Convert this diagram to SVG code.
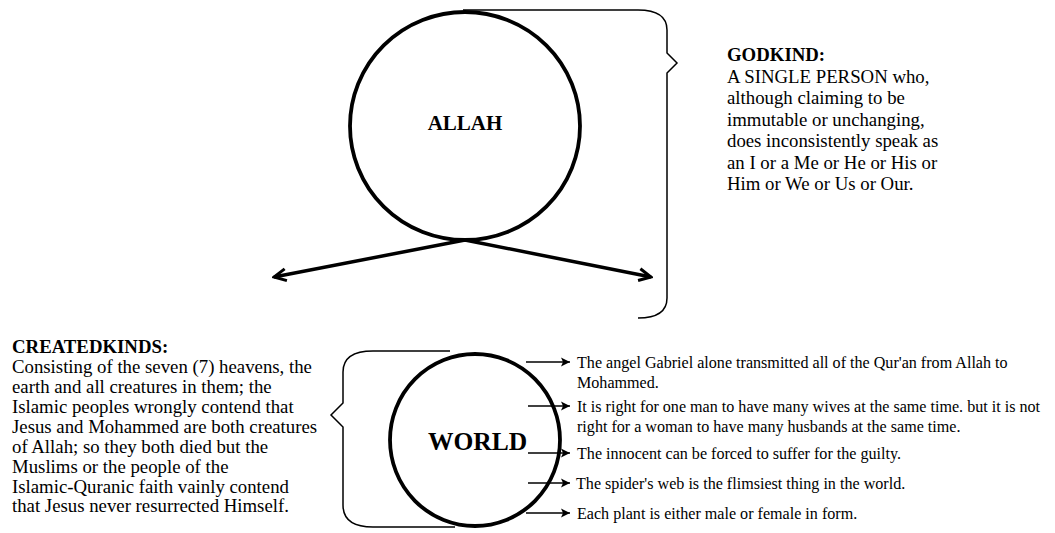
<svg xmlns="http://www.w3.org/2000/svg" width="1055" height="533" viewBox="0 0 1055 533">
<style>
.t{font-family:"Liberation Serif","Times New Roman",serif;fill:#000}
.b{font-weight:bold}
.body{font-size:18.8px}
.small{font-size:16.1px}
.node{fill:none;stroke:#000;stroke-width:3.8}
.brace{fill:none;stroke:#000;stroke-width:1.5}
.big{fill:none;stroke:#000;stroke-width:3.5}
.thin{fill:none;stroke:#000;stroke-width:1.5}
</style>
<defs>
<marker id="bigArrow" markerUnits="userSpaceOnUse" viewBox="-14 -8 16 16" refX="0" refY="0" markerWidth="16" markerHeight="16" orient="auto">
<path d="M-12,-6 L0,0 L-12,6" fill="none" stroke="#000" stroke-width="3"/>
</marker>
<marker id="smallArrow" markerUnits="userSpaceOnUse" viewBox="-11 -6 12 12" refX="0" refY="0" markerWidth="12" markerHeight="12" orient="auto">
<path d="M0,0 L-9,-4.5 L-7,0 L-9,4.5 Z" fill="#000"/>
</marker>
</defs>
<g id="allah">
<ellipse class="node" cx="465" cy="126" rx="115" ry="114"/>
<text class="t b" x="465" y="130" font-size="21" text-anchor="middle">ALLAH</text>
</g>
<g id="godkind">
<path class="brace" d="M463,10 L638,10 Q667,10 667,30 L667,53 L677,63 L667,73 L667,298 Q667,318 638,318"/>
<text class="t b body" x="727" y="61">GODKIND:</text>
<text class="t body" x="727" y="82.5">A SINGLE PERSON who,</text>
<text class="t body" x="727" y="104">although claiming to be</text>
<text class="t body" x="727" y="125.5">immutable or unchanging,</text>
<text class="t body" x="727" y="147">does inconsistently speak as</text>
<text class="t body" x="727" y="168.5">an I or a Me or He or His or</text>
<text class="t body" x="727" y="190">Him or We or Us or Our.</text>
</g>
<g id="world">
<ellipse class="node" cx="475" cy="440" rx="85" ry="86"/>
<text class="t b" x="428" y="450" font-size="25.5">WORLD</text>
</g>
<g id="createdkinds">
<path class="brace" d="M450,351 L373,351 Q343,351 343,372 L343,403 L331,415 L343,427 L343,505 Q343,527 373,527 L455,527"/>
<text class="t b body" x="12" y="353">CREATEDKINDS:</text>
<text class="t body" x="12" y="373">Consisting of the seven (7) heavens, the</text>
<text class="t body" x="12" y="393">earth and all creatures in them; the</text>
<text class="t body" x="12" y="413">Islamic peoples wrongly contend that</text>
<text class="t body" x="12" y="433">Jesus and Mohammed are both creatures</text>
<text class="t body" x="12" y="453">of Allah; so they both died but the</text>
<text class="t body" x="12" y="472.5">Muslims or the people of the</text>
<text class="t body" x="12" y="492.5">Islamic-Quranic faith vainly contend</text>
<text class="t body" x="12" y="511.5">that Jesus never resurrected Himself.</text>
</g>
<g id="beliefs">
<text class="t small" x="577" y="368">The angel Gabriel  alone transmitted all of the Qur'an from Allah to</text>
<text class="t small" x="577" y="388">Mohammed.</text>
<text class="t small" x="577" y="412">It is right for one man to have many wives at the same time. but it is not</text>
<text class="t small" x="577" y="432">right for a woman to have many husbands at the same time.</text>
<text class="t small" x="577" y="459">The innocent can be forced to suffer for the guilty.</text>
<text class="t small" x="576" y="489">The spider's web is the flimsiest thing in the world.</text>
<text class="t small" x="577" y="519">Each plant is either male or female in form.</text>
</g>
<g id="connectors">
<line class="big" x1="465" y1="240" x2="274" y2="277" marker-end="url(#bigArrow)"/>
<line class="big" x1="465" y1="240" x2="651" y2="277" marker-end="url(#bigArrow)"/>
<line class="thin" x1="526" y1="362" x2="570" y2="362" marker-end="url(#smallArrow)"/>
<line class="thin" x1="528" y1="406" x2="570" y2="406" marker-end="url(#smallArrow)"/>
<line class="thin" x1="528" y1="453" x2="570" y2="453" marker-end="url(#smallArrow)"/>
<line class="thin" x1="528" y1="483" x2="570" y2="483" marker-end="url(#smallArrow)"/>
<line class="thin" x1="526" y1="513" x2="570" y2="513" marker-end="url(#smallArrow)"/>
</g>
</svg>
